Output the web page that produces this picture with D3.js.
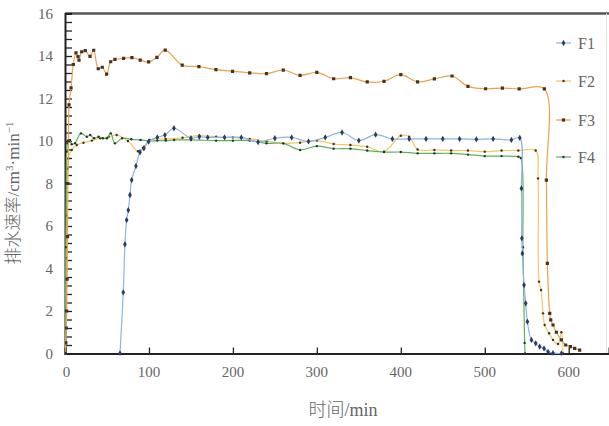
<!DOCTYPE html>
<html>
<head>
<meta charset="utf-8">
<script src="https://cdn.jsdelivr.net/npm/d3@7"></script>
<style>
  html, body { margin: 0; padding: 0; background: #fff; }
  svg { display: block; }
</style>
</head>
<body>
<div id="chart"></div>
<script>
// time (min) / drainage rate (cm3/min)
const seriesNames = ['F1', 'F2', 'F3', 'F4'];

const f1 = [[65.5,0],[69.4,2.88],[71.4,5.14],[73.4,6.28],[75.4,6.75],[77.4,7.46],[79.4,8.16],[84.5,8.82],
  [89.3,9.47],[94,9.66],[99.6,9.97],[109.9,10.17],[119,10.28],[129.8,10.6],[150,10.13],[160,10.2],[170,10.17],
  [190,10.17],[210,10.17],[230,9.95],[250,10.13],[270,10.17],[290,9.98],[310,10.17],[330,10.4],[350,10.02],
  [370,10.3],[390,10.1],[410,10.1],[430,10.1],[450,10.1],[470,10.1],[490,10.08],[510,10.1],[531.7,10.05],
  [541.7,10.15],[543.7,7.77],[544.2,5.42],[544.8,4.71],[546.8,3.22],[548.8,2.36],[550.8,1.5],[555.6,0.64],
  [560.7,0.48],[565.5,0.32],[570.6,0.24],[575.4,0.08],[581.3,0.02],[591.3,0]];

const f2 = [[0,0],[0.5,1],[1,2.5],[1.5,4.5],[2,6.5],[2.5,8],[3,8.7],[4,9.18],[8,9.58],[14,9.81],[22,9.92],
  [32,10.02],[42,10.13],[52,10.2],[61.5,10.28],[75,10.0],[87,9.52],[93,9.69],[101,10.05],[120,10.1],[140,10.15],
  [160,10.25],[180,10.2],[200,10.17],[220,10.1],[240,9.98],[260,9.89],[280,9.92],[300,10.02],[320,9.86],
  [340,9.81],[360,9.73],[380,9.5],[400,10.25],[410,10.2],[420,9.6],[440,9.58],[460,9.55],[480,9.55],[500,9.5],
  [520,9.55],[540,9.55],[560.7,9.55],[563.5,8.24],[564.7,3.38],[567.1,2.99],[569.4,1.89],[571.4,1.34],
  [576.6,0.95],[581.3,0.64],[587.3,0.45],[591.3,1.0],[593.3,0]];

const f3 = [[0,0],[1,0.5],[1.5,1.2],[2,2],[2.5,3.5],[3,5.5],[3.5,8],[4.2,10],[4.8,11.7],[7.2,12.5],[9.9,13.6],
  [13.1,14.15],[15.5,13.97],[16.7,13.8],[19.9,14.2],[24.2,14.25],[29.8,13.98],[34.2,14.27],[39.6,13.4],
  [44.4,13.47],[49.6,13.15],[54.4,13.73],[59.5,13.84],[69.8,13.89],[79.7,13.92],[89.6,13.81],[99.6,13.72],
  [109.5,13.94],[119.4,14.28],[139.6,13.57],[159.5,13.5],[179.8,13.36],[199.6,13.28],[220,13.21],[240,13.17],
  [260,13.34],[280,13.09],[300,13.23],[320,12.93],[340,12.98],[360,12.78],[380,12.81],[400,13.12],[420,12.78],
  [440,12.92],[461,13.06],[480,12.57],[501,12.46],[521,12.49],[541,12.45],[571,12.45],[573.4,8.16],
  [574.6,4.24],[577.4,1.89],[578.6,1.58],[581.3,1.34],[585.3,1.0],[591.3,0.64],[596.4,0.4],[602,0.32],
  [607.1,0.24],[613.1,0.16]];

const f4 = [[0,0],[0.5,2],[1,5],[1.5,8],[2,9.5],[3,9.9],[4,10.0],[6,10.05],[8,9.85],[12,9.9],[19,10.36],
  [26,10.2],[30,10.28],[34.5,10.13],[40,10.2],[45,10.13],[50,10.13],[54.5,10.36],[59.5,9.89],[68,10.13],
  [79,10.08],[90,10.05],[100,10.0],[110,10.02],[120,10.02],[130,10.05],[150,10.05],[180,10.02],[200,10.02],
  [220,10.02],[240,9.89],[260,9.89],[280,9.58],[300,9.76],[320,9.64],[340,9.64],[360,9.55],[380,9.48],
  [400,9.48],[420,9.42],[440,9.42],[460,9.42],[480,9.36],[500,9.29],[520,9.29],[540,9.26],[543,9.2],
  [545.5,5],[547.5,0.5],[548,0]];

const xTicks = [0, 100, 200, 300, 400, 500, 600];
const yTicks = [0, 2, 4, 6, 8, 10, 12, 14, 16];

const W = 609, H = 426;
const mLeft = 65, mRight = 609, mTop = 13.5, mBottom = 353.5;

const x = d3.scaleLinear().domain([0, 648]).range([mLeft, mRight]);
const y = d3.scaleLinear().domain([0, 16]).range([mBottom, mTop]);

const styles = {
  F1: { data: f1, line: '#8db3e0', dot: '#2b3a66', shape: 'diamond', r: 1.7 },
  F2: { data: f2, line: '#f4c760', dot: '#3a3320', shape: 'circle', r: 1.2 },
  F3: { data: f3, line: '#e9a24e', dot: '#4a3020', shape: 'square', r: 1.6 },
  F4: { data: f4, line: '#5cb35c', dot: '#23352a', shape: 'circle', r: 1.2 }
};

const svg = d3.select('#chart').append('svg').attr('width', W).attr('height', H);
const serif = '"Liberation Serif", "Times New Roman", serif';
const textCol = '#666';

svg.append('defs').append('clipPath').attr('id', 'plot')
  .append('rect').attr('x', mLeft).attr('y', mTop - 2).attr('width', mRight - mLeft).attr('height', mBottom - mTop + 4);

// frame
svg.append('line').attr('x1', mLeft).attr('x2', W).attr('y1', mTop).attr('y2', mTop)
  .attr('stroke', '#555').attr('stroke-width', 2.5);
svg.append('line').attr('x1', 606.5).attr('x2', 606.5).attr('y1', mTop).attr('y2', mBottom)
  .attr('stroke', '#e4e4e4').attr('stroke-width', 1);

// y axis: minor ticks every 0.4, inward
const yAxis = d3.axisLeft(y).tickValues(d3.range(0, 16.01, 0.4)).tickSize(-7).tickFormat('');
svg.append('g').attr('transform', `translate(${mLeft},0)`).call(yAxis)
  .call(g => g.select('.domain').attr('stroke', '#222').attr('stroke-width', 2))
  .call(g => g.selectAll('.tick line').attr('stroke', '#222').attr('stroke-width', 1.3));
svg.append('g').selectAll('text').data(yTicks).join('text')
  .attr('x', 53).attr('y', d => y(d)).attr('dy', '0.35em').attr('text-anchor', 'end')
  .attr('font-family', serif).attr('font-size', 15).attr('fill', textCol).text(d => d);

// x axis
const xAxis = d3.axisBottom(x).tickValues(xTicks.slice(1)).tickSize(-6).tickFormat('');
svg.append('g').attr('transform', `translate(0,${mBottom})`).call(xAxis)
  .call(g => g.select('.domain').attr('stroke', '#222').attr('stroke-width', 2))
  .call(g => g.selectAll('.tick line').attr('stroke', '#222').attr('stroke-width', 1.3));
svg.append('g').selectAll('text').data(xTicks).join('text')
  .attr('x', d => x(d) + (d === 0 ? 1.5 : 0)).attr('y', 377).attr('text-anchor', 'middle')
  .attr('font-family', serif).attr('font-size', 15).attr('fill', textCol).text(d => d);

// titles
svg.append('text').attr('x', 343).attr('y', 416).attr('text-anchor', 'middle')
  .attr('font-family', serif + ', "Noto Sans CJK SC"').attr('font-size', 18).attr('font-weight', 300)
  .attr('fill', textCol).text('时间/min');
svg.append('text').attr('transform', 'translate(19,193) rotate(-90)').attr('text-anchor', 'middle')
  .attr('font-family', serif + ', "Noto Sans CJK SC"').attr('font-size', 17).attr('font-weight', 300)
  .attr('fill', textCol)
  .html('排水速率/cm<tspan font-size="11" dy="-6">3</tspan><tspan dy="6">·min</tspan><tspan font-size="11" dy="-6">−1</tspan>');

const line = d3.line().x(d => x(d[0])).y(d => y(d[1])).curve(d3.curveCatmullRom.alpha(0.5));

function marker(sel, s) {
  if (s.shape === 'circle') {
    sel.append('circle').attr('r', s.r).attr('fill', s.dot);
  } else {
    sel.append('path').attr('d', d3.symbol(s.shape === 'square' ? d3.symbolSquare : d3.symbolDiamond, s.r * s.r * 4)())
      .attr('fill', s.dot);
  }
}

const plot = svg.append('g').attr('clip-path', 'url(#plot)');
['F2', 'F4', 'F1', 'F3'].forEach(name => {
  const s = styles[name];
  plot.append('path').datum(s.data).attr('d', line)
    .attr('fill', 'none').attr('stroke', s.line).attr('stroke-width', 1.2);
  plot.append('g').selectAll('g').data(s.data).join('g')
    .attr('transform', d => `translate(${x(d[0])},${y(d[1])})`)
    .each(function() { marker(d3.select(this), s); });
});

// legend
const legY = [43, 81, 120, 157];
seriesNames.forEach((name, i) => {
  const s = styles[name];
  const g = svg.append('g').attr('transform', `translate(0,${legY[i]})`);
  g.append('line').attr('x1', 556).attr('x2', 571).attr('stroke', s.line).attr('stroke-width', 1.2);
  marker(g.append('g').attr('transform', 'translate(563.5,0)'), s);
  g.append('text').attr('x', 578).attr('dy', '0.35em').attr('font-family', serif)
    .attr('font-size', 16).attr('fill', textCol).text(name);
});
</script>
</body>
</html>
